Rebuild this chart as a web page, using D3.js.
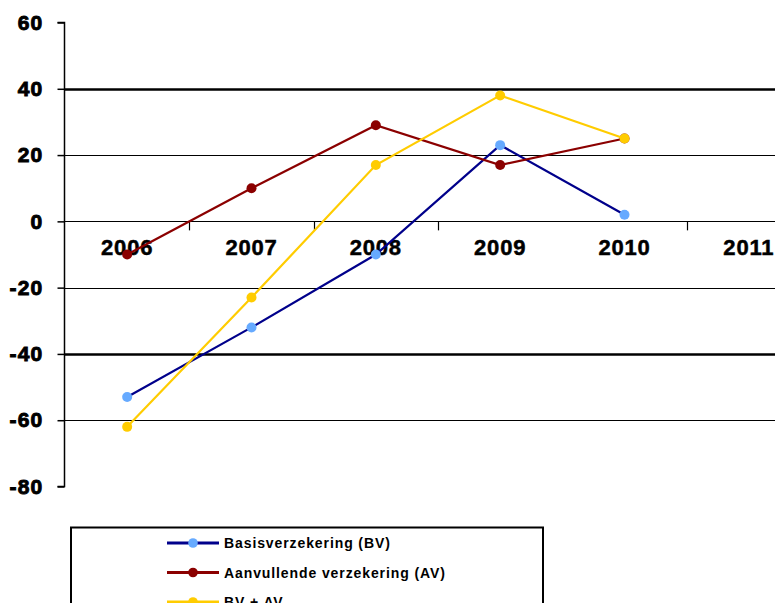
<!DOCTYPE html>
<html><head><meta charset="utf-8">
<script src="https://cdn.jsdelivr.net/npm/d3@7"></script>
<style>
html,body{margin:0;padding:0;background:#fff;overflow:hidden;}
svg{display:block;}
</style></head>
<body>
<svg id="chart" width="775" height="603"></svg>
<script>
const categories = ["2006","2007","2008","2009","2010","2011"];
const bvValues   = [-53, -32, -10, 23, 2];
const avValues   = [-10, 10, 29, 17, 25];
const sumValues  = [-62, -23, 17, 38, 25];
const yTicks     = [60, 40, 20, 0, -20, -40, -60, -80];
const yTickLabels = ["60", "40", "20", "0", "-20", "-40", "-60", "-80"];
const seriesNames = ["Basisverzekering (BV)", "Aanvullende verzekering (AV)", "BV + AV"];

const series = [
  {name: seriesNames[0], values: bvValues, line: "#00008b", marker: "#66aaff"},
  {name: seriesNames[1], values: avValues, line: "#8b0000", marker: "#8b0000"},
  {name: seriesNames[2], values: sumValues, line: "#ffcc00", marker: "#ffcc00"}
];

const svg = d3.select("#chart");
const plotLeft = 65, plotRight = 811, plotTop = 22.5, plotBottom = 486.5;

const x = d3.scaleBand().domain(categories).range([plotLeft, plotRight]).padding(0);
const y = d3.scaleLinear().domain([-80, 60]).range([plotBottom, plotTop]);

// gridlines
const thick = new Set([40, -40]);
svg.append("g").selectAll("line")
  .data(yTicks.filter(v => v !== 60 && v !== -80))
  .join("line")
  .attr("x1", plotLeft).attr("x2", plotRight)
  .attr("y1", d => Math.round(y(d)) + 0.5).attr("y2", d => Math.round(y(d)) + 0.5)
  .attr("stroke", "#000")
  .attr("stroke-width", d => thick.has(d) ? 2.4 : 1.2);

// y axis
const yAxis = d3.axisLeft(y).tickValues(yTicks).tickSize(7).tickPadding(14)
  .tickFormat((d, i) => yTickLabels[i]);
const ya = svg.append("g").attr("transform", `translate(${plotLeft - 0.5},0)`).call(yAxis);
ya.select(".domain").attr("stroke", "#000").attr("stroke-width", 1.5).attr("d", `M-7,${y(60)}H0V${y(-80)}H-7`);
ya.selectAll(".tick line").attr("stroke", "#000").attr("stroke-width", 1.5);
ya.selectAll(".tick text")
  .attr("fill", "#000")
  .style("font-family", "'Liberation Sans', Arial, sans-serif")
  .style("font-weight", "bold")
  .style("font-size", "21px")
  .style("letter-spacing", "1.2px")
  .attr("stroke", "#000").attr("stroke-width", 0.9);

// x axis ticks (category boundaries) at y=0
const boundaries = categories.slice(1).map(c => x(c)).filter((b, i) => i !== 3);
svg.append("g").selectAll("line").data(boundaries).join("line")
  .attr("x1", d => Math.round(d) + 0.5).attr("x2", d => Math.round(d) + 0.5)
  .attr("y1", y(0)).attr("y2", y(0) + 9)
  .attr("stroke", "#000").attr("stroke-width", 1.2);

// category labels
svg.append("g").selectAll("text").data(categories).join("text")
  .attr("x", d => x(d) + x.bandwidth() / 2)
  .attr("y", y(0) + 34)
  .attr("text-anchor", "middle")
  .style("font-family", "'Liberation Sans', Arial, sans-serif")
  .style("font-weight", "bold")
  .style("font-size", "22px")
  .style("letter-spacing", "0.8px")
  .attr("fill", "#000")
  .attr("stroke", "#000").attr("stroke-width", 0.5)
  .text(d => d);

// lines
const line = d3.line()
  .x((d, i) => x(categories[i]) + x.bandwidth() / 2)
  .y(d => y(d));

series.forEach(s => {
  svg.append("path")
    .datum(s.values)
    .attr("fill", "none")
    .attr("stroke", s.line)
    .attr("stroke-width", 2.2)
    .attr("d", line);
  svg.append("g").selectAll("circle").data(s.values).join("circle")
    .attr("cx", (d, i) => x(categories[i]) + x.bandwidth() / 2)
    .attr("cy", d => y(d))
    .attr("r", 5)
    .attr("fill", s.marker);
});

// legend
const lg = svg.append("g");
lg.append("rect")
  .attr("x", 71).attr("y", 527.5)
  .attr("width", 472).attr("height", 120)
  .attr("fill", "#fff").attr("stroke", "#000").attr("stroke-width", 2);
const rowY = [543, 572.5, 602];
series.forEach((s, i) => {
  const g = lg.append("g").attr("transform", `translate(0,${rowY[i]})`);
  g.append("line").attr("x1", 167).attr("x2", 219).attr("y1", 0).attr("y2", 0)
    .attr("stroke", s.line).attr("stroke-width", 3);
  g.append("circle").attr("cx", 193).attr("cy", 0).attr("r", 4.8).attr("fill", s.marker);
  g.append("text").attr("x", 224).attr("y", 0).attr("dy", "0.36em")
    .style("font-family", "'Liberation Sans', Arial, sans-serif")
    .style("font-weight", "bold")
    .style("font-size", "14px")
    .style("letter-spacing", "0.9px")
    .attr("fill", "#000")
    .text(s.name);
});
</script>
</body></html>
